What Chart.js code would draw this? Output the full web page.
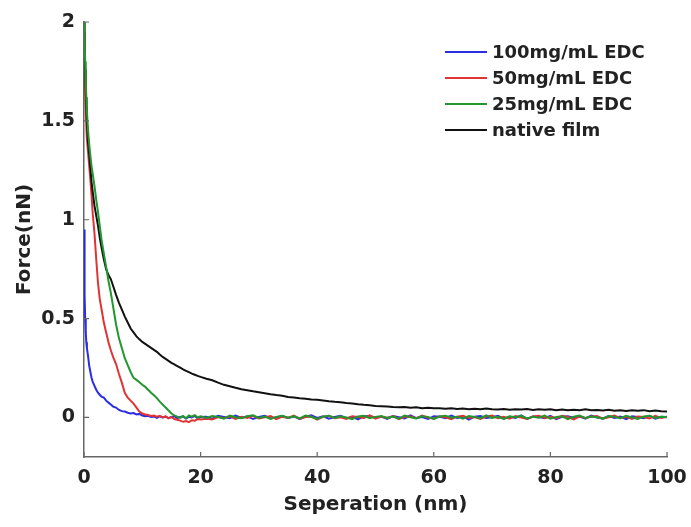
<!DOCTYPE html>
<html>
<head>
<meta charset="utf-8">
<script src="https://cdn.jsdelivr.net/npm/chart.js@4.4.0/dist/chart.umd.min.js"></script>
<style>
  html, body { margin: 0; padding: 0; background: #fff; }
  #wrap { width: 691px; height: 527px; }
</style>
</head>
<body>
<div id="wrap"><canvas id="forceChart" width="691" height="527"></canvas></div>
<script>
// separation (nm), dense near contact, 1 nm steps after 20
const sep = [
  0, 0.1, 0.2, 0.3, 0.4, 0.5, 0.7, 0.9, 1.1, 1.3,
  1.5, 1.8, 2.1, 2.4, 2.7, 3, 3.4, 3.8, 4.2, 4.6,
  5, 5.5, 6, 6.5, 7, 7.5, 8, 8.5, 9, 9.5,
  10, 10.5, 11, 11.5, 12, 12.5, 13, 13.5, 14, 14.5,
  15, 15.5, 16, 16.5, 17, 17.5, 18, 18.5, 19, 19.5, 20,
  21, 22, 23, 24, 25, 26, 27, 28, 29, 30,
  31, 32, 33, 34, 35, 36, 37, 38, 39, 40,
  41, 42, 43, 44, 45, 46, 47, 48, 49, 50,
  51, 52, 53, 54, 55, 56, 57, 58, 59, 60,
  61, 62, 63, 64, 65, 66, 67, 68, 69, 70,
  71, 72, 73, 74, 75, 76, 77, 78, 79, 80,
  81, 82, 83, 84, 85, 86, 87, 88, 89, 90,
  91, 92, 93, 94, 95, 96, 97, 98, 99, 100
];

const edc100 = [
  0.95, 0.62, 0.5, 0.43, 0.38, 0.35, 0.31, 0.26, 0.23, 0.2,
  0.18, 0.16, 0.14, 0.125, 0.115, 0.105, 0.1, 0.085, 0.075, 0.065,
  0.055, 0.05, 0.038, 0.032, 0.03, 0.024, 0.02, 0.022, 0.015, 0.018,
  0.01, 0.006, 0.008, 0.002, 0.005, -0.002, 0.006, 0, 0.004, -0.004,
  0.003, 0.006, -0.003, 0.002, 0.005, -0.006, 0.004, 0, 0.008, -0.004, 0.002,
  0.004, -0.006, 0.008, 0.002, -0.004, 0.01, -0.002, 0.006, -0.008, 0.003,
  0.009, -0.005, 0.001, 0.007, -0.003, 0.005, -0.009, 0.004, 0.011, -0.002,
  0.006, -0.006, 0.002, 0.008, -0.004, 0.003, -0.01, 0.005, 0.009, -0.001,
  0.004, -0.007, 0.007, 0.001, -0.005, 0.01, -0.003, 0.002, -0.008, 0.006,
  0.003, -0.004, 0.009, -0.002, 0.005, -0.011, 0.004, 0.007, -0.003, 0.001,
  0.008, -0.006, 0.003, -0.002, 0.01, -0.007, 0.005, 0.002, -0.004, 0.008,
  -0.009, 0.003, 0.006, -0.001, 0.004, -0.006, 0.009, 0, -0.005, 0.007,
  -0.002, 0.004, -0.008, 0.006, 0.002, -0.004, 0.008, -0.006, 0.003, 0.001
];

const edc50 = [
  1.95, 1.82, 1.62, 1.55, 1.47, 1.41, 1.34, 1.27, 1.2, 1.12,
  1.03, 0.93, 0.8, 0.68, 0.6, 0.55, 0.48, 0.43, 0.38, 0.34,
  0.305, 0.27, 0.22, 0.175, 0.125, 0.1, 0.085, 0.07, 0.05, 0.03,
  0.02, 0.015, 0.012, 0.008, 0.01, 0.004, 0.008, 0, 0.005, -0.004,
  0.002, -0.008, -0.012, -0.016, -0.022, -0.018, -0.024, -0.014, -0.016, -0.008, -0.01,
  -0.006, -0.01, 0.002, -0.004, 0.006, -0.008, 0.003, -0.002, 0.008, -0.005,
  0.001, 0.007, -0.009, 0.004, -0.003, 0.009, -0.006, 0.002, 0.005, -0.011,
  0.003, 0.008, -0.004, 0.001, -0.007, 0.006, 0.002, -0.003, 0.01, -0.006,
  0.004, -0.002, 0.007, -0.008, 0.003, 0.005, -0.004, 0.009, -0.001, -0.006,
  0.006, 0.001, -0.009, 0.004, 0.008, -0.003, 0.002, -0.007, 0.005, 0.01,
  -0.004, 0.003, -0.006, 0.007, 0, -0.008, 0.005, 0.009, -0.002, 0.004,
  -0.005, 0.008, 0.002, -0.01, 0.006, -0.003, 0.004, 0.007, -0.006, 0.001,
  0.009, -0.004, 0.003, -0.007, 0.005, 0.002, -0.005, 0.008, -0.002, 0.004
];

const edc25 = [
  2.0, 1.9, 1.8, 1.7, 1.62, 1.55, 1.45, 1.38, 1.32, 1.27,
  1.23, 1.17, 1.1, 1.04, 0.97, 0.9, 0.83, 0.76, 0.69, 0.63,
  0.56, 0.47, 0.4, 0.35, 0.3, 0.265, 0.23, 0.2, 0.19, 0.178,
  0.165, 0.155, 0.14, 0.125, 0.112, 0.098, 0.08, 0.065, 0.05, 0.035,
  0.02, 0.01, 0.004, -0.002, 0.008, -0.004, 0.01, 0.004, 0.012, 0, 0.006,
  -0.003, 0.007, 0.002, -0.006, 0.009, 0.001, -0.004, 0.006, 0.011, -0.002,
  0.005, -0.008, 0.003, 0.008, -0.001, 0.006, -0.005, 0.01, 0.002, -0.007,
  0.004, 0.009, -0.003, 0.006, 0, -0.009, 0.005, 0.008, -0.004, 0.003,
  0.007, -0.002, 0.004, -0.006, 0.01, 0.001, -0.005, 0.006, 0.003, -0.008,
  0.005, 0.009, -0.001, 0.004, -0.006, 0.007, 0.002, -0.004, 0.011, -0.002,
  0.003, -0.007, 0.006, 0.001, 0.008, -0.005, 0.004, -0.001, 0.009, -0.006,
  0.002, 0.006, -0.008, 0.004, 0.01, -0.003, 0.005, 0.001, -0.006, 0.007,
  0.003, -0.004, 0.008, 0, -0.007, 0.005, 0.009, -0.002, 0.004, 0.002
];

const native = [
  2.0, 1.88, 1.76, 1.66, 1.57, 1.5, 1.39, 1.33, 1.26, 1.19,
  1.14, 1.07, 1.02, 0.97, 0.91, 0.86, 0.8, 0.75, 0.72, 0.7,
  0.665, 0.62, 0.58, 0.545, 0.51, 0.48, 0.45, 0.43, 0.41, 0.395,
  0.382, 0.372, 0.362, 0.352, 0.342, 0.332, 0.318, 0.306, 0.296, 0.286,
  0.276, 0.268, 0.26, 0.252, 0.243, 0.236, 0.229, 0.222, 0.216, 0.21, 0.205,
  0.196, 0.188, 0.176, 0.165, 0.158, 0.15, 0.143, 0.138, 0.132, 0.127,
  0.122, 0.117, 0.113, 0.11, 0.104, 0.101, 0.097, 0.095, 0.091, 0.089,
  0.086, 0.082, 0.079, 0.077, 0.073, 0.071, 0.067, 0.064, 0.062, 0.058,
  0.057, 0.056, 0.053, 0.051, 0.053, 0.049, 0.051, 0.047, 0.049, 0.046,
  0.047, 0.044, 0.046, 0.043, 0.045, 0.042, 0.044, 0.041, 0.045, 0.042,
  0.04, 0.043, 0.039, 0.042, 0.04, 0.043, 0.038, 0.041, 0.039, 0.042,
  0.037, 0.04, 0.036, 0.039, 0.037, 0.041, 0.036, 0.038, 0.035, 0.039,
  0.034, 0.037, 0.033, 0.036, 0.034, 0.037, 0.032, 0.035, 0.031, 0.03
];

const seriesNames  = ['100mg/mL EDC', '50mg/mL EDC', '25mg/mL EDC', 'native film'];
const seriesColors = ['#2a2ee0', '#e03434', '#23962f', '#111111'];
const xTicks = [0, 20, 40, 60, 80, 100];
const yTicks = [0, 0.5, 1, 1.5, 2];

const FONT = 'DejaVu Sans';
const AXIS = '#666666';
const TEXT = '#222222';

function toPoints(vals) {
  return sep.map((x, i) => ({ x: x, y: vals[i] }));
}

// inward tick marks, matlab style
const innerTicks = {
  id: 'innerTicks',
  afterDraw(chart) {
    const { ctx, chartArea, scales } = chart;
    ctx.save();
    ctx.strokeStyle = AXIS;
    ctx.lineWidth = 1.2;
    ctx.beginPath();
    xTicks.forEach(v => {
      const px = scales.x.getPixelForValue(v);
      ctx.moveTo(px, chartArea.bottom);
      ctx.lineTo(px, chartArea.bottom - 5);
    });
    yTicks.forEach(v => {
      const py = scales.y.getPixelForValue(v);
      ctx.moveTo(chartArea.left, py);
      ctx.lineTo(chartArea.left + 5, py);
    });
    ctx.stroke();
    ctx.restore();
  }
};

// legend drawn inside the plot, top right
const insideLegend = {
  id: 'insideLegend',
  afterDraw(chart) {
    const ctx = chart.ctx;
    ctx.save();
    ctx.font = 'bold 18px "' + FONT + '"';
    ctx.textBaseline = 'middle';
    ctx.textAlign = 'left';
    chart.data.datasets.forEach((ds, i) => {
      const y = 52 + i * 26;
      ctx.strokeStyle = ds.borderColor;
      ctx.lineWidth = 2;
      ctx.beginPath();
      ctx.moveTo(445, y);
      ctx.lineTo(487, y);
      ctx.stroke();
      ctx.fillStyle = TEXT;
      ctx.fillText(ds.label, 492, y + 1);
    });
    ctx.restore();
  }
};

// green sits on top, blue at the bottom
const drawOrder = [3, 2, 0, 1];
const datasets = [edc100, edc50, edc25, native].map((vals, i) => ({
  label: seriesNames[i],
  data: toPoints(vals),
  borderColor: seriesColors[i],
  backgroundColor: seriesColors[i],
  borderWidth: 2,
  pointRadius: 0,
  tension: 0,
  fill: false,
  order: drawOrder[i]
}));

new Chart(document.getElementById('forceChart'), {
  type: 'line',
  data: { datasets: datasets },
  options: {
    responsive: false,
    animation: false,
    devicePixelRatio: 1,
    layout: { padding: { left: 0, right: 24, top: 22, bottom: 0 } },
    plugins: { legend: { display: false }, tooltip: { enabled: false } },
    scales: {
      x: {
        type: 'linear',
        min: 0,
        max: 100,
        afterBuildTicks: s => { s.ticks = xTicks.map(v => ({ value: v })); },
        afterFit: s => { s.height = 70; s.paddingLeft = 0; s.paddingRight = 0; },
        grid: { display: false, drawTicks: false },
        border: { display: true, color: AXIS, width: 1.5 },
        ticks: { color: TEXT, padding: 10, font: { family: FONT, size: 19, weight: 'bold' } },
        title: {
          display: true,
          text: 'Seperation (nm)',
          color: TEXT,
          font: { family: FONT, size: 20, weight: 'bold' },
          padding: { top: 0, bottom: 10 }
        }
      },
      y: {
        type: 'linear',
        min: -0.2,
        max: 2,
        afterBuildTicks: s => { s.ticks = yTicks.map(v => ({ value: v })); },
        afterFit: s => { s.width = 84; s.paddingTop = 0; s.paddingBottom = 0; },
        grid: { display: false, drawTicks: false },
        border: { display: true, color: AXIS, width: 1.5 },
        ticks: {
          color: TEXT,
          padding: 9,
          font: { family: FONT, size: 19, weight: 'bold' },
          callback: v => String(v)
        },
        title: {
          display: true,
          text: 'Force(nN)',
          color: TEXT,
          font: { family: FONT, size: 20, weight: 'bold' },
          padding: { top: 13, bottom: 0 }
        }
      }
    }
  },
  plugins: [innerTicks, insideLegend]
});
</script>
</body>
</html>
